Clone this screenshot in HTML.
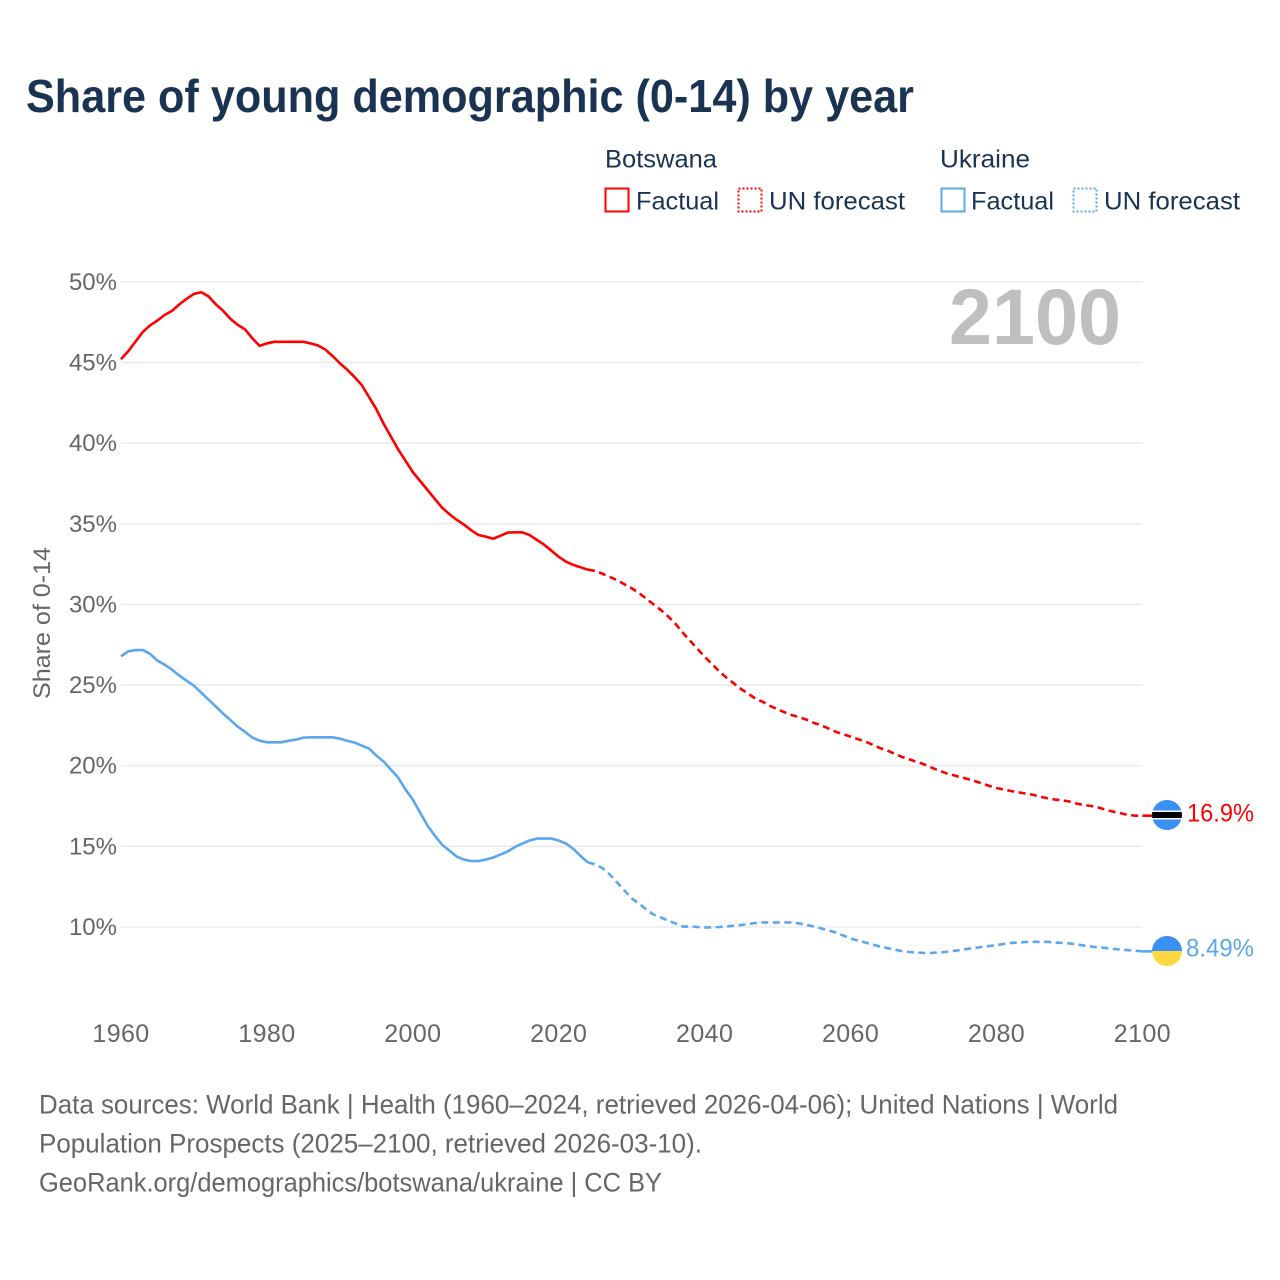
<!DOCTYPE html>
<html lang="en">
<head>
<meta charset="utf-8">
<title>Share of young demographic (0-14) by year</title>
<style>
html,body{margin:0;padding:0;background:#fff;}
svg{display:block;font-family:"Liberation Sans",sans-serif;}
</style>
</head>
<body>
<svg id="chart" xmlns="http://www.w3.org/2000/svg" width="1280" height="1280" viewBox="0 0 1280 1280">
  <defs>
    <clipPath id="clip-bw"><circle cx="1167" cy="815" r="15"/></clipPath>
    <clipPath id="clip-ua"><circle cx="1167" cy="951" r="15"/></clipPath>
  </defs>
  <rect x="0" y="0" width="1280" height="1280" fill="#ffffff"/>
  <text x="26" y="112" font-size="46" font-weight="700" fill="#1a3353" textLength="888" lengthAdjust="spacingAndGlyphs">Share of young demographic (0-14) by year</text>

  <g font-size="25" fill="#1a3353">
    <text x="605" y="167.5" textLength="112" lengthAdjust="spacingAndGlyphs">Botswana</text>
    <text x="940" y="167.5" textLength="90" lengthAdjust="spacingAndGlyphs">Ukraine</text>
    <rect x="605.5" y="188.5" width="23" height="23" fill="none" stroke="#ff0000" stroke-width="2"/>
    <text x="636" y="209.5" textLength="83" lengthAdjust="spacingAndGlyphs">Factual</text>
    <rect x="738.5" y="188.5" width="23" height="23" fill="none" stroke="#ff0000" stroke-width="2" stroke-dasharray="2 2"/>
    <text x="769" y="209.5" textLength="136" lengthAdjust="spacingAndGlyphs">UN forecast</text>
    <rect x="941.5" y="188.5" width="23" height="23" fill="none" stroke="#5ba7ee" stroke-width="2"/>
    <text x="971" y="209.5" textLength="83" lengthAdjust="spacingAndGlyphs">Factual</text>
    <rect x="1073.5" y="188.5" width="23" height="23" fill="none" stroke="#5ba7ee" stroke-width="2" stroke-dasharray="2 2"/>
    <text x="1104" y="209.5" textLength="136" lengthAdjust="spacingAndGlyphs">UN forecast</text>
  </g>

  <g id="grid"></g>
  <text x="949" y="344" font-size="79" font-weight="700" fill="#bfbfbf" textLength="172" lengthAdjust="spacingAndGlyphs">2100</text>
  <g id="yticks" font-size="24" fill="#666666" text-anchor="end"></g>
  <g id="xticks" font-size="25" fill="#666666" text-anchor="middle"></g>
  <text transform="translate(50,699) rotate(-90)" font-size="24" fill="#666666" textLength="152" lengthAdjust="spacingAndGlyphs">Share of 0-14</text>
  <g id="series"></g>

  <g>
    <g clip-path="url(#clip-bw)">
      <rect x="1152" y="800" width="30" height="30" fill="#3a8ff2"/>
      <rect x="1152" y="810.5" width="30" height="9" fill="#ffffff"/>
      <rect x="1152" y="812" width="30" height="6" fill="#000000"/>
    </g>
  </g>
  <g>
    <g clip-path="url(#clip-ua)">
      <rect x="1152" y="936" width="30" height="15" fill="#3a8ff2"/>
      <rect x="1152" y="951" width="30" height="15" fill="#ffd83f"/>
    </g>
  </g>
  <text id="label-bw" x="1187" y="821.5" font-size="25" fill="#ff0000" textLength="67" lengthAdjust="spacingAndGlyphs"></text>
  <text id="label-ua" x="1186" y="956.5" font-size="25" fill="#5ba7ee" textLength="68" lengthAdjust="spacingAndGlyphs"></text>

  <g font-size="27" fill="#666666">
    <text x="39" y="1113.5" textLength="1079" lengthAdjust="spacingAndGlyphs">Data sources: World Bank | Health (1960–2024, retrieved 2026-04-06); United Nations | World</text>
    <text x="39" y="1152.5" textLength="663" lengthAdjust="spacingAndGlyphs">Population Prospects (2025–2100, retrieved 2026-03-10).</text>
    <text x="39" y="1191.5" textLength="623" lengthAdjust="spacingAndGlyphs">GeoRank.org/demographics/botswana/ukraine | CC BY</text>
  </g>
</svg>
<script>
var yTickValues = [10, 15, 20, 25, 30, 35, 40, 45, 50];
var xTickValues = [1960, 1980, 2000, 2020, 2040, 2060, 2080, 2100];
var factualStartYear = 1960;
var forecastStartYear = 2024;

var botswanaFactual = [
  45.2,45.7,46.3,46.9,47.3,47.6,47.95,48.2,48.6,48.95,
  49.25,49.35,49.1,48.6,48.2,47.7,47.33,47.05,46.5,46.03,
  46.18,46.28,46.28,46.28,46.28,46.28,46.18,46.05,45.8,45.4,
  44.95,44.55,44.1,43.6,42.85,42.1,41.2,40.4,39.6,38.9,
  38.2,37.65,37.1,36.55,36,35.6,35.25,34.95,34.6,34.3,
  34.2,34.07,34.25,34.45,34.47,34.47,34.3,34,33.7,33.33,
  32.95,32.65,32.45,32.3,32.15
];
var botswanaForecast = [
  32.15,32.08,31.9,31.7,31.5,31.25,
  31,30.7,30.35,30,29.65,29.25,28.8,28.25,27.75,27.25,
  26.75,26.3,25.85,25.45,25.1,24.75,24.45,24.15,23.95,23.7,
  23.5,23.3,23.13,23,22.85,22.65,22.5,22.3,22.1,21.95,
  21.8,21.65,21.5,21.3,21.1,20.95,20.75,20.55,20.4,20.25,
  20.1,19.9,19.72,19.55,19.42,19.3,19.18,19.05,18.9,18.75,
  18.62,18.52,18.43,18.35,18.27,18.2,18.08,17.98,17.9,17.85,
  17.78,17.65,17.56,17.5,17.4,17.27,17.15,17.05,16.95,16.9,
  16.9
];
var ukraineFactual = [
  26.78,27.09,27.17,27.17,26.93,26.51,26.26,25.95,25.58,25.27,
  24.96,24.53,24.1,23.66,23.23,22.83,22.42,22.1,21.74,21.55,
  21.45,21.45,21.45,21.55,21.62,21.74,21.76,21.76,21.76,21.76,
  21.68,21.55,21.43,21.25,21.06,20.63,20.25,19.76,19.26,18.52,
  17.9,17.09,16.29,15.67,15.11,14.74,14.37,14.18,14.09,14.09,
  14.18,14.31,14.49,14.68,14.96,15.17,15.36,15.48,15.48,15.48,
  15.36,15.17,14.85,14.4,14
];
var ukraineForecast = [
  14,13.88,13.65,13.25,12.76,12.26,
  11.77,11.46,11.08,10.77,10.59,10.4,10.22,10.03,10.03,10,
  9.97,9.97,10,10.03,10.09,10.12,10.19,10.25,10.28,10.28,
  10.28,10.28,10.28,10.22,10.12,10.03,9.91,9.78,9.66,9.47,
  9.29,9.16,9.04,8.92,8.79,8.7,8.6,8.51,8.45,8.42,
  8.39,8.39,8.42,8.45,8.51,8.57,8.64,8.7,8.76,8.82,
  8.88,8.95,9.01,9.04,9.07,9.08,9.08,9.08,9.04,9.01,
  8.98,8.92,8.85,8.79,8.73,8.7,8.64,8.6,8.57,8.53,
  8.49
];
var botswanaEndLabel = "16.9%";
var ukraineEndLabel = "8.49%";

var SVG_NS = "http://www.w3.org/2000/svg";
function xScale(year) { return 121 + (year - 1960) * (1142.4 - 121) / 140; }
function yScale(value) { return 927 - (value - 10) * 16.13; }

var gridGroup = document.getElementById("grid");
var yTickGroup = document.getElementById("yticks");
var xTickGroup = document.getElementById("xticks");
var seriesGroup = document.getElementById("series");

yTickValues.forEach(function (v) {
  var line = document.createElementNS(SVG_NS, "line");
  
  
  line.setAttribute("x1", xScale(1960));
  line.setAttribute("x2", xScale(2100));
  line.setAttribute("y1", yScale(v));
  line.setAttribute("y2", yScale(v));
  line.setAttribute("stroke", "#ebebeb");
  line.setAttribute("stroke-width", "1.6");
  gridGroup.appendChild(line);

  var label = document.createElementNS(SVG_NS, "text");
  
  
  label.setAttribute("x", 117);
  label.setAttribute("y", yScale(v) + 8);
  label.textContent = v + "%";
  yTickGroup.appendChild(label);
});

xTickValues.forEach(function (yr) {
  var label = document.createElementNS(SVG_NS, "text");
  
  
  label.setAttribute("x", xScale(yr));
  label.setAttribute("y", 1042);
  label.setAttribute("letter-spacing", "0.4");
  label.textContent = yr;
  xTickGroup.appendChild(label);
});

function pathFrom(values, startYear) {
  return values.map(function (v, i) {
    return (i ? "L" : "M") + xScale(startYear + i).toFixed(2) + " " + yScale(v).toFixed(2);
  }).join(" ");
}

function drawLine(name, d, color, dash) {
  var path = document.createElementNS(SVG_NS, "path");
  
  
  path.setAttribute("d", d);
  path.setAttribute("fill", "none");
  path.setAttribute("stroke", color);
  path.setAttribute("stroke-width", "2.6");
  path.setAttribute("stroke-linejoin", "round");
  if (dash) { path.setAttribute("stroke-dasharray", dash); }
  seriesGroup.appendChild(path);
}

var RED = "#ff0000";
var BLUE = "#5ba7ee";
drawLine("botswana-factual-line", pathFrom(botswanaFactual, factualStartYear), RED);
drawLine("botswana-forecast-line", pathFrom(botswanaForecast, forecastStartYear), RED, "7 4.5");
drawLine("ukraine-factual-line", pathFrom(ukraineFactual, factualStartYear), BLUE);
drawLine("ukraine-forecast-line", pathFrom(ukraineForecast, forecastStartYear), BLUE, "7 4.5");

var bwEnd = botswanaForecast[botswanaForecast.length - 1];
var uaEnd = ukraineForecast[ukraineForecast.length - 1];
drawLine("botswana-marker-connector", "M" + xScale(2100) + " " + yScale(bwEnd) + " L1153 " + yScale(bwEnd), RED);
drawLine("ukraine-marker-connector", "M" + xScale(2100) + " " + yScale(uaEnd) + " L1153 " + yScale(uaEnd), BLUE);

document.getElementById("label-bw").textContent = botswanaEndLabel;
document.getElementById("label-ua").textContent = ukraineEndLabel;
</script>
</body>
</html>
